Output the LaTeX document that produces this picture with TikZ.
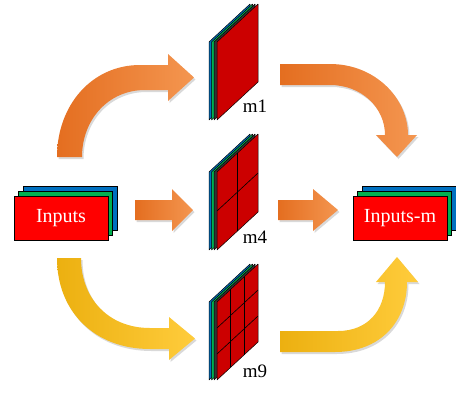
\documentclass[tikz,border=0pt]{standalone}
\usepackage{fontspec}
\setmainfont{Liberation Serif}
\definecolor{rd}{RGB}{255,0,0}
\definecolor{srd}{RGB}{204,0,0}
\definecolor{gr}{RGB}{0,176,80}
\definecolor{bl}{RGB}{0,112,192}
\definecolor{orA}{RGB}{228,110,32}
\definecolor{orB}{RGB}{244,150,80}
\definecolor{yeA}{RGB}{236,176,16}
\definecolor{yeB}{RGB}{255,204,60}
\tikzset{
  layerbox/.style={draw=black,line width=0.8pt,minimum width=94pt,minimum height=44pt,inner sep=0pt},
  boxtext/.style={text=white,font=\fontsize{20}{24}\selectfont},
  slablabel/.style={font=\fontsize{19}{22}\selectfont,anchor=base,inner sep=0pt},
  gridline/.style={draw=black,line width=0.6pt},
  shadowed/.style={preaction={fill=black,opacity=0.15,transform canvas={shift={(1.5,2)}}}},
  orangearrow/.style={shadowed,left color=orA,right color=orB},
  yellowarrow/.style={shadowed,left color=yeA,right color=yeB},
}
\newcommand{\slabbody}[1]{%
  \foreach \dx/\c in {-8/bl,-5.5/gr,-3/black!80,0/srd}{%
    \filldraw[fill=\c,draw=black,line width=0.5pt,line join=round]
      (217+\dx,#1) -- (258+\dx,#1-38) -- (258+\dx,#1+40) -- (217+\dx,#1+78) -- cycle;}}
\begin{document}
\begin{tikzpicture}[x=1pt,y=-1pt]
\useasboundingbox (0,0) rectangle (456,392);

% ---- arrows ----
% top-left (orange)
\shade[orangearrow] (57,157) .. controls (57,105) and (92,65) .. (140,65)
  -- (168,65) -- (168,54) -- (194,77.5) -- (168,101) -- (168,90) -- (145,90)
  .. controls (108,90) and (82,120) .. (82,157) -- cycle;
% top-right (orange)
\shade[orangearrow] (280,64) -- (330,64) .. controls (375,64) and (408,98) .. (408,135)
  -- (417,135) -- (397,157) -- (376,135) -- (385,135)
  .. controls (385,108) and (362,85) .. (330,85) -- (280,85) -- cycle;
% middle left
\shade[orangearrow] (135,200) -- (172,200) -- (172,189) -- (193,210) -- (172,231)
  -- (172,220) -- (135,220) -- cycle;
% middle right
\shade[orangearrow] (278,200) -- (313,200) -- (313,189) -- (338,210) -- (313,231)
  -- (313,220) -- (278,220) -- cycle;
% bottom-left (yellow)
\shade[yellowarrow] (57,258) -- (81,258) .. controls (81,298) and (108,328) .. (150,328)
  -- (169,328) -- (169,317) -- (195,338.5) -- (169,360) -- (169,349) -- (150,349)
  .. controls (95,349) and (57,312) .. (57,258) -- cycle;
% bottom-right (yellow)
\shade[yellowarrow] (280,331) -- (338,331) .. controls (368,331) and (385,310) .. (385,282)
  -- (376,282) -- (397,257) -- (418,282) -- (407,282)
  .. controls (407,322) and (380,352) .. (335,352) -- (280,352) -- cycle;

% ---- input stacks ----
\node[layerbox,fill=bl] (inB) at (70,208) {};
\node[layerbox,fill=gr] (inG) at (65.5,213) {};
\node[layerbox,fill=rd,boxtext] (inputs) at (61,218) {Inputs};

\node[layerbox,fill=bl] (outB) at (409,208) {};
\node[layerbox,fill=gr] (outG) at (404.5,213) {};
\node[layerbox,fill=rd,boxtext] (outputs) at (400,218) {Inputs-m};

% ---- slabs ----
% m1
\slabbody{42}
% m4
\slabbody{172}
\draw[gridline] (237.5,153) -- (237.5,231);
\draw[gridline] (217,211) -- (258,173);
% m9
\slabbody{302}
\draw[gridline] (230.67,289.33) -- (230.67,367.33);
\draw[gridline] (244.33,276.67) -- (244.33,354.67);
\draw[gridline] (217,328) -- (258,290);
\draw[gridline] (217,354) -- (258,316);

\node[slablabel] (m1) at (255,112) {m1};
\node[slablabel] (m4) at (255,243) {m4};
\node[slablabel] (m9) at (255,377) {m9};
\end{tikzpicture}
\end{document}
